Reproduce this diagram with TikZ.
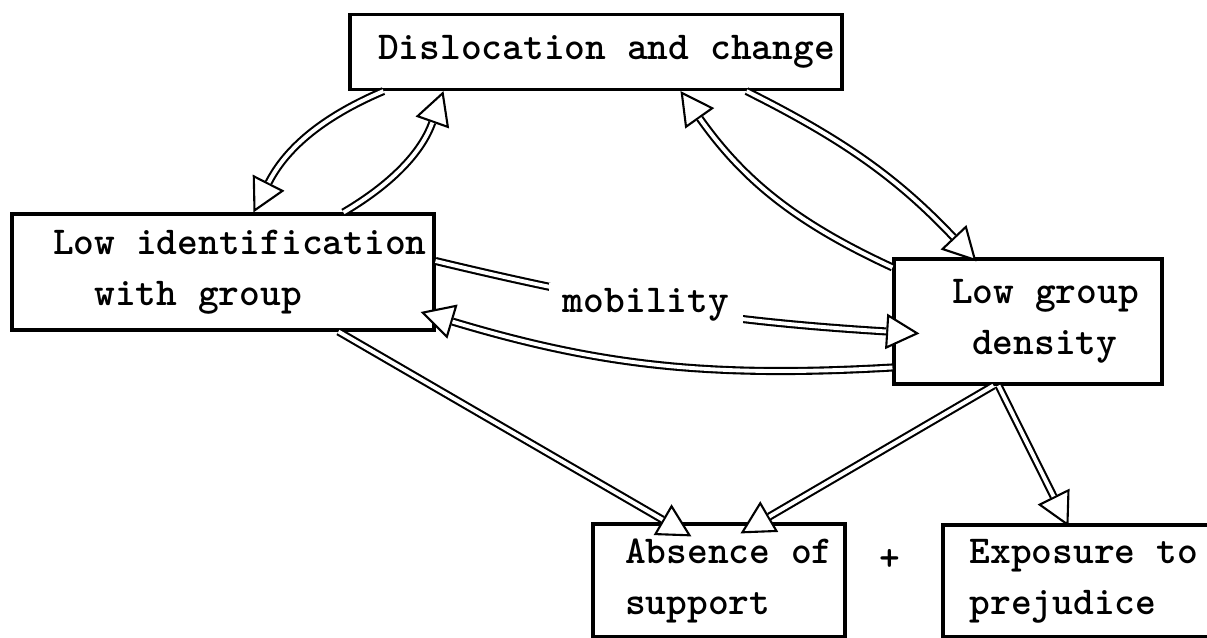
\documentclass[tikz,border=0pt]{standalone}
\usetikzlibrary{arrows.meta,calc}
\tikzset{
  node-box/.style={draw,line width=1.8pt,align=left,inner sep=0pt},
  arrow-hollow/.style={line width=1.2pt,
    -{Triangle[length=19pt,width=20pt,fill=white,line width=1.2pt]},
    postaction={draw,-,double,double distance=2.2pt,shorten >=19pt}},
}

\begin{document}
\begin{tikzpicture}[x=0.02cm,y=0.02cm,
  every node/.style={font=\ttfamily\bfseries\fontsize{22.5pt}{29pt}\selectfont}]
  \useasboundingbox (0,0) rectangle (1207,638);
  \clip (0,0) rectangle (1207,638);
  \node[node-box,minimum width=9.84cm,minimum height=1.5cm] (dis) at (596,586)
    {\hspace*{0.53em}Dislocation and change};
  \node[node-box,minimum width=8.44cm,minimum height=2.32cm] (lowid) at (223,366)
    {\hspace*{0.86em}Low identification\\\hspace*{1.9em}with group};
  \node[node-box,minimum width=5.36cm,minimum height=2.5cm] (lgd) at (1028,316.5)
    {\hspace*{0.88em}Low group\\\hspace*{1.39em}density};
  \node[node-box,minimum width=5.04cm,minimum height=2.26cm] (abs) at (719,57.5)
    {\hspace*{0.5em}Absence of\\\hspace*{0.5em}support};
  \node[node-box,minimum width=8cm,minimum height=2.24cm] (exp) at (1143,57)
    {Exposure to\hspace*{3em}\null\\prejudice};
  \node (plus) at (890,78) {+};
  % dislocation <-> identification
  \draw[arrow-hollow] ($(dis.south west)+(35,0)$) to[bend right=20] ($(lowid.north west)+(243,0)$);
  \draw[arrow-hollow] ($(lowid.north west)+(333,0)$) to[bend right=20] ($(dis.south west)+(95,0)$);
  % dislocation <-> density
  \draw[arrow-hollow] ($(dis.south west)+(398,0)$) to[bend left=10] ($(lgd.north west)+(84,-4)$);
  \draw[arrow-hollow] ($(lgd.north west)+(0,-10)$) to[bend left=15] ($(dis.south west)+(332,0)$);
  % mobility
  \draw[arrow-hollow] ($(lowid.east)+(0,11)$) to[bend right=5] ($(lgd.west)+(27,-12)$);
  \draw[arrow-hollow] ($(lgd.west)+(0,-46)$) to[bend left=10] ($(lowid.east)+(-15,-40)$);
  \node[fill=white,inner xsep=8pt,inner ysep=3pt] (mob) at (646,333) {mobility};
  % outcomes
  \draw[arrow-hollow] ($(lowid.south west)+(328,0)$) -- ($(abs.north west)+(100,-14)$);
  \draw[arrow-hollow] ($(lgd.south west)+(101,0)$) -- ($(abs.north west)+(149,-11)$);
  \draw[arrow-hollow] ($(lgd.south west)+(106,0)$) -- ($(exp.north west)+(127,-3)$);
\end{tikzpicture}
\end{document}
